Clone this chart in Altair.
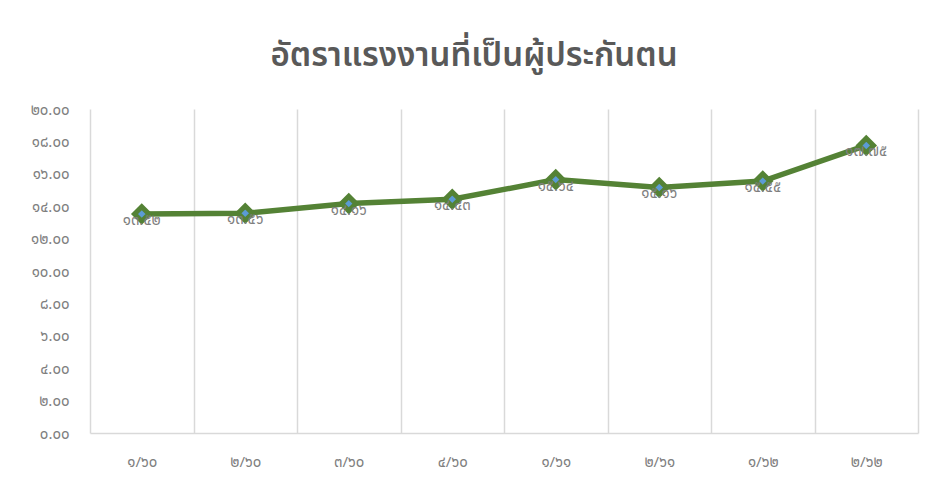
import altair as alt
import pandas as pd

# ---- data ----
periods = ["๑/๖๐", "๒/๖๐", "๓/๖๐", "๔/๖๐", "๑/๖๑", "๒/๖๑", "๑/๖๒", "๒/๖๒"]
rates = [13.52, 13.56, 14.16, 14.43, 15.64, 15.16, 15.55, 17.75]
y_ticks = [0, 2, 4, 6, 8, 10, 12, 14, 16, 18, 20]
y_tick_labels = ["๐.๐๐", "๒.๐๐", "๔.๐๐", "๖.๐๐", "๘.๐๐", "๑๐.๐๐",
                 "๑๒.๐๐", "๑๔.๐๐", "๑๖.๐๐", "๑๘.๐๐", "๒๐.๐๐"]
title_text = "อัตราแรงงานที่เป็นผู้ประกันตน"

thai_digits = str.maketrans("0123456789", "๐๑๒๓๔๕๖๗๘๙")
df = pd.DataFrame({
    "period": periods,
    "rate": rates,
    "label": [f"{v:.2f}".translate(thai_digits) for v in rates],
})

FONT = "Noto Sans Thai, Leelawadee UI, Tahoma, Noto Sans, sans-serif"
GREEN = "#548235"
GRID = "#d9d9d9"

label_expr = "[" + ",".join(f"'{s}'" for s in y_tick_labels) + "][round(datum.value/2)]"

x_enc = alt.X(
    "period:N", sort=periods, bandPosition=0.5,
    scale=alt.Scale(type="band", paddingInner=0, paddingOuter=0),
    axis=alt.Axis(title=None, tickBand="extent", grid=True, gridColor=GRID,
                  gridWidth=1.5, domainColor=GRID, domainWidth=1.5, ticks=False,
                  labelAngle=0, labelPadding=21, labelFont=FONT, labelFontSize=15,
                  labelColor="#7f7f7f"),
)
y_enc = alt.Y(
    "rate:Q", scale=alt.Scale(domain=[0, 20]),
    axis=alt.Axis(title=None, values=y_ticks, labelExpr=label_expr, grid=False,
                  domain=False, ticks=False, labelPadding=21, labelFont=FONT,
                  labelFontSize=15, labelColor="#7f7f7f"),
)

base = alt.Chart(df)
line = base.mark_line(color=GREEN, strokeWidth=5.5).encode(x=x_enc, y=y_enc)
points = base.mark_point(shape="diamond", filled=True, fill="#5b9bd5", stroke=GREEN,
                         strokeWidth=5, size=210, opacity=1).encode(x=x_enc, y=y_enc)
labels = base.mark_text(font=FONT, fontSize=15, color="#7f7f7f", dy=6,
                        baseline="middle", align="center").encode(
    x=x_enc, y=y_enc, text="label:N")

chart = alt.layer(line, points, labels).properties(
    width=828, height=324,
    title=alt.TitleParams(title_text, font=FONT, fontSize=33, fontWeight=600,
                          color="#595959", anchor="middle", dx=-30, offset=29),
    autosize=alt.AutoSizeParams(type="none"),
    padding={"left": 82, "top": 101, "right": 12, "bottom": 43},
).configure_view(stroke=None)

chart.save("out.html", embed_options={"renderer": "svg", "actions": False})
